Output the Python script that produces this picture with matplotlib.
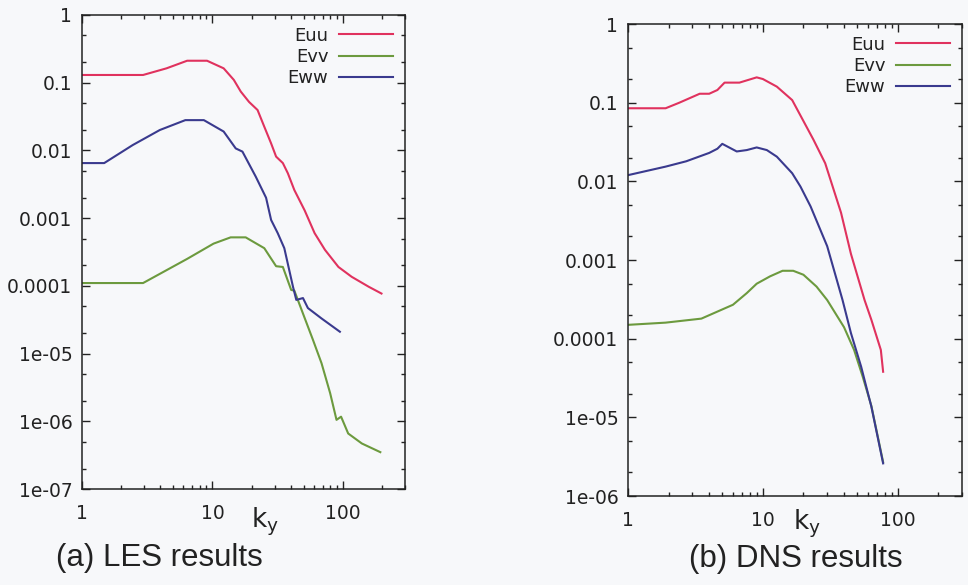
# Energy spectra Euu / Evv / Eww versus k_y, LES (a) and DNS (b)

import numpy as np
import matplotlib
matplotlib.use("Agg")
import matplotlib.pyplot as plt
from matplotlib.ticker import LogLocator, FixedLocator, FixedFormatter, NullFormatter

# ---- data ----
labels = ["Euu", "Evv", "Eww"]
colors = ["#e0325e", "#6c9a3e", "#3a3a8e"]

# (a) LES results
les_k_uu = [1, 2.94, 4.45, 6.4, 9.1, 12.2, 14.6, 16.5, 19.1, 22.2, 25, 28.2, 30.8, 34.7,
            37.9, 42.5, 51, 60.8, 73, 92.6, 117, 158, 198]
les_E_uu = [0.13, 0.13, 0.163, 0.211, 0.211, 0.163, 0.11, 0.074, 0.052, 0.0395, 0.0224,
            0.0127, 0.0081, 0.0065, 0.0046, 0.0026, 0.0013, 0.0006, 0.00034, 0.00019,
            0.000136, 9.7e-5, 7.7e-5]

les_k_vv = [1, 2.94, 6.4, 10.2, 13.8, 18, 25, 30.8, 34.7, 40.2, 42.5, 49.5, 59, 68.7,
            80, 89.5, 97, 110, 140, 194]
les_E_vv = [1.1e-4, 1.1e-4, 2.5e-4, 4.2e-4, 5.2e-4, 5.2e-4, 3.6e-4, 1.95e-4, 1.9e-4,
            8.7e-5, 8.5e-5, 3.9e-5, 1.6e-5, 7.2e-6, 2.6e-6, 1.05e-6, 1.17e-6, 6.6e-7,
            4.7e-7, 3.5e-7]

les_k_ww = [1, 1.48, 2.45, 3.95, 6.2, 8.6, 12.2, 15.1, 17, 21.5, 25.8, 28.2, 31.7, 35.6,
            41.5, 44, 49.5, 54, 68.7, 95]
les_E_ww = [0.0065, 0.0065, 0.012, 0.020, 0.028, 0.028, 0.019, 0.0107, 0.0096, 0.0041,
            0.0020, 0.00094, 0.0006, 0.00036, 9.7e-5, 6.2e-5, 6.6e-5, 4.7e-5, 3.3e-5,
            2.1e-5]

# (b) DNS results
dns_k_uu = [1, 1.9, 2.4, 3.4, 4.0, 4.6, 5.2, 6.7, 9, 10, 12.7, 16.5, 23.7, 29, 38, 45,
            56.8, 63.8, 75, 78]
dns_E_uu = [0.085, 0.085, 0.10, 0.13, 0.13, 0.145, 0.18, 0.18, 0.21, 0.2, 0.16, 0.108,
            0.034, 0.017, 0.004, 0.0012, 3.1e-4, 1.74e-4, 7.2e-5, 3.8e-5]

dns_k_vv = [1, 1.9, 3.5, 6, 7.6, 9, 11.3, 14, 16.8, 20, 25, 30, 40, 47.5, 55, 63.8, 78]
dns_E_vv = [1.5e-4, 1.6e-4, 1.8e-4, 2.7e-4, 3.8e-4, 5e-4, 6.2e-4, 7.3e-4, 7.3e-4,
            6.5e-4, 4.6e-4, 3.1e-4, 1.4e-4, 7.2e-5, 3.3e-5, 1.4e-5, 2.7e-6]

dns_k_ww = [1, 1.9, 2.7, 4, 4.6, 5, 6.4, 7.6, 9, 10.7, 12.7, 16.5, 19, 22.6, 30, 39, 45,
            53.6, 63.8, 78]
dns_E_ww = [0.012, 0.0154, 0.018, 0.023, 0.026, 0.030, 0.024, 0.025, 0.027, 0.025,
            0.0206, 0.0127, 0.0086, 0.0048, 0.0015, 3.1e-4, 1.18e-4, 4.4e-5, 1.37e-5,
            2.6e-6]

x_ticks = [1, 10, 100]
x_ticklabels = ["1", "10", "100"]
les_y_ticks = [1, 0.1, 0.01, 0.001, 0.0001, 1e-5, 1e-6, 1e-7]
les_y_ticklabels = ["1", "0.1", "0.01", "0.001", "0.0001", "1e-05", "1e-06", "1e-07"]
dns_y_ticks = [1, 0.1, 0.01, 0.001, 0.0001, 1e-5, 1e-6]
dns_y_ticklabels = ["1", "0.1", "0.01", "0.001", "0.0001", "1e-05", "1e-06"]

captions = ["(a) LES results", "(b) DNS results"]

# ---- figure ----
plt.rcParams["font.family"] = ["DejaVu Sans"]
plt.rcParams["mathtext.fontset"] = "dejavusans"
bg = "#f7f8fa"
ink = "#222222"

fig = plt.figure(figsize=(9.68, 5.85), dpi=100, facecolor=bg)
ax1 = fig.add_axes([0.0847, 0.1641, 0.3337, 0.8103])
ax2 = fig.add_axes([0.6488, 0.1521, 0.3450, 0.8068])


def style(ax, yticks, yticklabels, ymin):
    ax.set_facecolor("none")
    ax.set_xscale("log")
    ax.set_yscale("log")
    ax.set_xlim(1, 300)
    ax.set_ylim(ymin, 1)
    ax.xaxis.set_major_locator(FixedLocator(x_ticks))
    ax.xaxis.set_major_formatter(FixedFormatter(x_ticklabels))
    ax.xaxis.set_minor_locator(LogLocator(base=10, subs=np.arange(2, 10), numticks=20))
    ax.xaxis.set_minor_formatter(NullFormatter())
    ax.yaxis.set_major_locator(FixedLocator(yticks))
    ax.yaxis.set_major_formatter(FixedFormatter(yticklabels))
    ax.yaxis.set_minor_locator(LogLocator(base=10, subs=(2.0, 5.0), numticks=20))
    ax.yaxis.set_minor_formatter(NullFormatter())
    ax.tick_params(which="both", direction="in", top=True, right=True,
                   colors=ink, labelcolor=ink, width=1.0)
    ax.tick_params(which="major", length=6, labelsize=13.5)
    ax.tick_params(axis="x", which="major", pad=11)
    ax.tick_params(axis="y", which="major", pad=7)
    ax.tick_params(which="minor", length=3)
    for s in ax.spines.values():
        s.set_color(ink)
        s.set_linewidth(1.1)
    ax.set_xlabel(r"$\mathrm{k_y}$", fontsize=19, color=ink)
    leg = ax.legend(loc="upper right", frameon=False, markerfirst=False,
                    fontsize=13, handlelength=3.0, handletextpad=0.6,
                    labelspacing=0.18, borderaxespad=0.25)
    for t in leg.get_texts():
        t.set_color(ink)


ax1.plot(les_k_uu, les_E_uu, color=colors[0], lw=1.5, label=labels[0])
ax1.plot(les_k_vv, les_E_vv, color=colors[1], lw=1.5, label=labels[1])
ax1.plot(les_k_ww, les_E_ww, color=colors[2], lw=1.5, label=labels[2])
style(ax1, les_y_ticks, les_y_ticklabels, 1e-7)
ax1.xaxis.set_label_coords(0.565, -0.035)

ax2.plot(dns_k_uu, dns_E_uu, color=colors[0], lw=1.5, label=labels[0])
ax2.plot(dns_k_vv, dns_E_vv, color=colors[1], lw=1.5, label=labels[1])
ax2.plot(dns_k_ww, dns_E_ww, color=colors[2], lw=1.5, label=labels[2])
style(ax2, dns_y_ticks, dns_y_ticklabels, 1e-6)
ax2.xaxis.set_label_coords(0.535, -0.025)

fig.text(0.165, 0.046, captions[0], ha="center", va="center", fontsize=22.5,
         family="Liberation Sans", color=ink)
fig.text(0.822, 0.044, captions[1], ha="center", va="center", fontsize=22.5,
         family="Liberation Sans", color=ink)

fig.savefig("out.png", dpi=100, facecolor=bg)
